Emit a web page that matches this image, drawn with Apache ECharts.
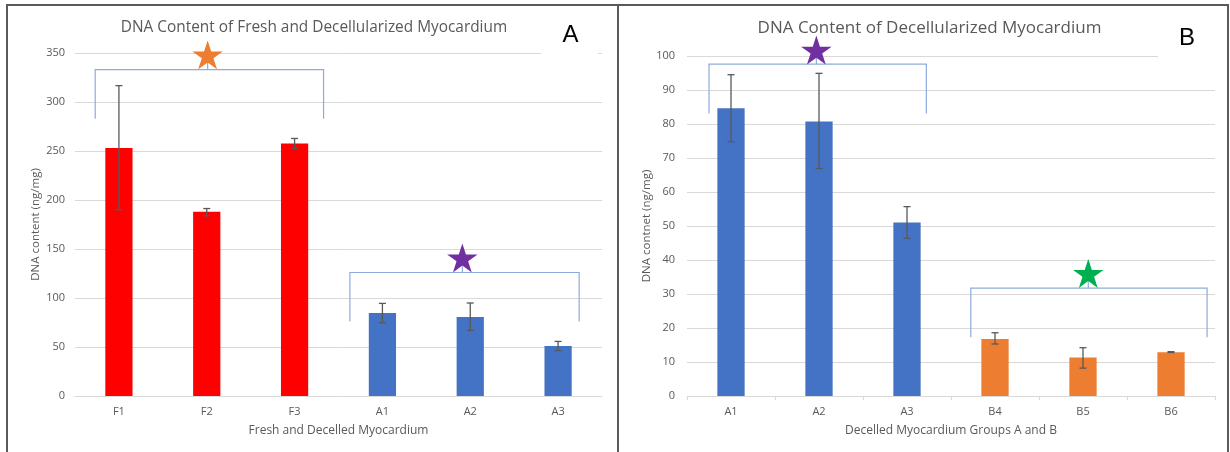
<!DOCTYPE html>
<html>
<head>
<meta charset="utf-8">
<script src="https://cdn.jsdelivr.net/npm/echarts@6/dist/echarts.min.js"></script>
<style>
html,body{margin:0;padding:0;background:#fff;}
#chart{width:1230px;height:452px;}
</style>
</head>
<body>
<div id="chart"></div>
<script>
// ---- Data ----
const titleA = 'DNA Content of Fresh and Decellularized Myocardium';
const titleB = 'DNA Content of Decellularized Myocardium';
const xNameA = 'Fresh and Decelled Myocardium';
const xNameB = 'Decelled Myocardium Groups A and B';
const yNameA = 'DNA content (ng/mg)';
const yNameB = 'DNA contnet (ng/mg)';

const catsA = ['F1', 'F2', 'F3', 'A1', 'A2', 'A3'];
const valsA = [253, 188, 257.7, 84.6, 80.7, 51.0];
const errHighA = [316.7, 191.3, 262.8, 94.5, 94.9, 55.7];
const errLowA = [190, 183.9, 252.6, 74.8, 66.9, 46.4];

const catsB = ['A1', 'A2', 'A3', 'B4', 'B5', 'B6'];
const valsB = [84.6, 80.7, 51.0, 16.8, 11.3, 12.9];
const errHighB = [94.5, 94.9, 55.7, 18.6, 14.2, 13.05];
const errLowB = [74.8, 66.9, 46.4, 15.3, 8.2, 12.8];

const yTicksA = {min: 0, max: 350, interval: 50};
const yTicksB = {min: 0, max: 100, interval: 10};

// Significance brackets: category span, bracket top/bottom values, star value
const bracketsA = [
  {from: 0, to: 2, top: 333, bottom: 283, star: 346.5, starAt: 1, color: '#ED7D31'},
  {from: 3, to: 5, top: 126, bottom: 76, star: 139.3, starAt: 4, color: '#7030A0'}
];
const bracketsB = [
  {from: 0, to: 2, top: 97.6, bottom: 83.1, star: 101.3, starAt: 1, color: '#7030A0'},
  {from: 3, to: 5, top: 31.7, bottom: 17.3, star: 35.6, starAt: 4, color: '#00B050'}
];
// fractional band offsets for the bracket ends and star (layout only)
const bracketOffA = [{f: -0.27, t: 0.33, s: 0.01}, {f: -0.37, t: 0.24, s: -0.09}];
const bracketOffB = [{f: -0.25, t: 0.22, s: -0.03}, {f: -0.275, t: 0.41, s: 0.06}];

// ---- Styles ----
const TXT = '#595959';
const FONT = 'Open Sans';
const GRID = '#D9D9D9';
const colorOf = (name) => name.startsWith('F') ? '#FF0000' : (name.startsWith('A') ? '#4472C4' : '#ED7D31');

const chart = echarts.init(document.getElementById('chart'), null, {renderer: 'canvas'});

function errRender(params, api) {
  const x = api.coord([api.value(0), 0])[0];
  const hi = api.coord([api.value(0), api.value(2)])[1];
  const lo = api.coord([api.value(0), api.value(1)])[1];
  const cap = 3.5;
  const st = {stroke: '#595959', lineWidth: 1.3};
  return {type: 'group', children: [
    {type: 'line', shape: {x1: x, y1: hi, x2: x, y2: lo}, style: st},
    {type: 'line', shape: {x1: x - cap, y1: hi, x2: x + cap, y2: hi}, style: st},
    {type: 'line', shape: {x1: x - cap, y1: lo, x2: x + cap, y2: lo}, style: st}
  ]};
}

function makeBracketRender(brackets, offs) {
  return function (params, api) {
    const b = brackets[params.dataIndex];
    const o = offs[params.dataIndex];
    const band = api.coord([1, 0])[0] - api.coord([0, 0])[0];
    const px = (i, off) => api.coord([i, 0])[0] + off * band;
    const py = (v) => api.coord([0, v])[1];
    const x0 = px(b.from, o.f), x1 = px(b.to, o.t), xs = px(b.starAt, o.s);
    const yt = py(b.top), yb = py(b.bottom), ys = py(b.star);
    const R = 16, r = R * 0.382;
    const pts = [];
    for (let k = 0; k < 10; k++) {
      const a = -Math.PI / 2 + k * Math.PI / 5;
      const rr = k % 2 === 0 ? R : r;
      pts.push([xs + rr * Math.cos(a), ys + rr * Math.sin(a)]);
    }
    const ls = {stroke: '#8FAADC', lineWidth: 1.2, fill: null};
    return {type: 'group', children: [
      {type: 'polyline', shape: {points: [[x0, yb], [x0, yt], [x1, yt], [x1, yb]]}, style: ls},
      {type: 'line', shape: {x1: xs, y1: yt, x2: xs, y2: ys}, style: ls},
      {type: 'polygon', shape: {points: pts}, style: {fill: b.color}}
    ]};
  };
}

function xAxisCfg(cats, name, gridIndex, showTicks) {
  return {
    type: 'category', gridIndex, data: cats, name, nameLocation: 'middle', nameGap: 29,
    nameTextStyle: {color: TXT, fontSize: 12, fontFamily: FONT},
    axisLine: {show: true, lineStyle: {color: GRID, width: 1}},
    axisTick: {show: showTicks, length: 4, lineStyle: {color: GRID}},
    axisLabel: {color: TXT, fontSize: 11, fontFamily: FONT, margin: 10}
  };
}
function yAxisCfg(t, name, gridIndex, margin, gap) {
  return {
    type: 'value', gridIndex, min: t.min, max: t.max, interval: t.interval,
    name, nameLocation: 'middle', nameGap: gap,
    nameTextStyle: {color: TXT, fontSize: 11.5, fontFamily: FONT},
    axisLine: {show: false}, axisTick: {show: false},
    splitLine: {lineStyle: {color: GRID, width: 1}},
    axisLabel: {color: TXT, fontSize: 11, fontFamily: FONT, margin}
  };
}

const option = {
  animation: false,
  backgroundColor: '#ffffff',
  grid: [
    {left: 75, top: 53, width: 527, height: 343},
    {left: 687, top: 56, width: 528, height: 340}
  ],
  xAxis: [xAxisCfg(catsA, xNameA, 0, false), xAxisCfg(catsB, xNameB, 1, true)],
  yAxis: [yAxisCfg(yTicksA, yNameA, 0, 10, 33), yAxisCfg(yTicksB, yNameB, 1, 12, 34)],
  series: [
    {type: 'bar', xAxisIndex: 0, yAxisIndex: 0, barWidth: '31%', data: valsA,
     itemStyle: {color: (p) => colorOf(catsA[p.dataIndex])}},
    {type: 'bar', xAxisIndex: 1, yAxisIndex: 1, barWidth: '31%', data: valsB,
     itemStyle: {color: (p) => colorOf(catsB[p.dataIndex])}},
    {type: 'custom', xAxisIndex: 0, yAxisIndex: 0, z: 5, renderItem: errRender,
     data: catsA.map((c, i) => [i, errLowA[i], errHighA[i]])},
    {type: 'custom', xAxisIndex: 1, yAxisIndex: 1, z: 5, renderItem: errRender,
     data: catsB.map((c, i) => [i, errLowB[i], errHighB[i]])},
    {type: 'custom', xAxisIndex: 0, yAxisIndex: 0, z: 6, clip: false,
     renderItem: makeBracketRender(bracketsA, bracketOffA),
     data: bracketsA.map(b => [b.from, b.top])},
    {type: 'custom', xAxisIndex: 1, yAxisIndex: 1, z: 6, clip: false,
     renderItem: makeBracketRender(bracketsB, bracketOffB),
     data: bracketsB.map(b => [b.from, b.top])}
  ],
  graphic: [
    {type: 'rect', z: 100, shape: {x: 541, y: 14, width: 57, height: 44}, style: {fill: '#ffffff'}},
    {type: 'rect', z: 100, shape: {x: 1158, y: 14, width: 60, height: 46}, style: {fill: '#ffffff'}},
    {type: 'text', z: 101, x: 570.5, y: 35, style: {text: 'A', fill: '#000', font: '24px "Liberation Sans"', align: 'center', verticalAlign: 'middle'}},
    {type: 'text', z: 101, x: 1187, y: 38, style: {text: 'B', fill: '#000', font: '24px "Liberation Sans"', align: 'center', verticalAlign: 'middle'}},
    {type: 'text', z: 101, x: 314, y: 27.5, style: {text: titleA, fill: TXT, font: '15.4px "Open Sans"', align: 'center', verticalAlign: 'middle'}},
    {type: 'text', z: 101, x: 929.5, y: 28, style: {text: titleB, fill: TXT, font: '17px "Open Sans"', align: 'center', verticalAlign: 'middle'}},
    {type: 'rect', z: 102, shape: {x: 7, y: 5, width: 611, height: 470}, style: {fill: null, stroke: '#5a5a5a', lineWidth: 2}},
    {type: 'rect', z: 102, shape: {x: 618, y: 5, width: 610, height: 470}, style: {fill: null, stroke: '#5a5a5a', lineWidth: 2}}
  ]
};
chart.setOption(option);
</script>
</body>
</html>
